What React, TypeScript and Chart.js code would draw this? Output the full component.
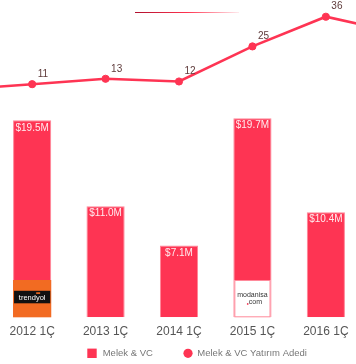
import React, { useEffect, useRef } from 'react';
import { Chart, registerables } from 'chart.js';

Chart.register(...registerables);

// Hidden first/last categories continue the line beyond the cropped frame
const categories = ['', '2012 1Ç', '2013 1Ç', '2014 1Ç', '2015 1Ç', '2016 1Ç', ''];
const fundingUSDm: (number | null)[] = [null, 19.5, 11.0, 7.1, 19.7, 10.4, null];
const dealCounts = [9, 11, 13, 12, 25, 36, 30];
const logos = ['', 'trendyol', '', '', 'modanisa', '', ''];
const barLabel = 'Melek & VC';
const lineLabel = 'Melek & VC Yatırım Adedi';

const RED = '#fe3453';
const FONT = '"Liberation Sans", Arial, Helvetica, sans-serif';

const overlay = {
  id: 'overlay',
  afterDatasetsDraw(chart: any) {
    const ctx = chart.ctx as CanvasRenderingContext2D;
    const barMeta = chart.getDatasetMeta(0);
    const lineMeta = chart.getDatasetMeta(1);
    ctx.save();
    barMeta.data.forEach((bar: any, i: number) => {
      const v = fundingUSDm[i];
      if (v == null) return;
      const { x, y, base, width } = bar.getProps(['x', 'y', 'base', 'width'], true);
      const l = x - width / 2;
      if (logos[i] === 'trendyol') {
        ctx.fillStyle = '#f26b22';
        ctx.fillRect(l, base - 37.3, width, 37.3);
        ctx.fillStyle = '#111';
        ctx.fillRect(l + 1, base - 26.5, width - 2, 12.5);
        ctx.fillStyle = '#fff';
        ctx.font = '7.5px ' + FONT;
        ctx.textAlign = 'center';
        ctx.textBaseline = 'middle';
        ctx.fillText('trendyol', x, base - 19.8);
        ctx.fillStyle = '#f26b22';
        ctx.fillRect(x + 4, base - 25, 4, 1.6);
      } else if (logos[i] === 'modanisa') {
        ctx.fillStyle = '#fff';
        ctx.fillRect(l + 1, base - 37.3, width - 2, 37.3);
        ctx.strokeStyle = '#ff8a9b';
        ctx.lineWidth = 1;
        ctx.strokeRect(l + 1.5, base - 36.8, width - 3, 36.3);
        ctx.fillStyle = '#333';
        ctx.font = '7px "Liberation Sans Narrow", ' + FONT;
        ctx.textAlign = 'center';
        ctx.textBaseline = 'middle';
        ctx.fillText('modanisa', x, base - 22);
        ctx.fillText('.com', x + 2, base - 15);
        ctx.fillStyle = RED;
        ctx.fillRect(x - 5.5, base - 14, 1.5, 1.5);
      }
      ctx.fillStyle = 'rgba(255,255,255,0.9)';
      ctx.font = '10px ' + FONT;
      ctx.textAlign = 'center';
      ctx.textBaseline = 'middle';
      ctx.fillText('$' + v.toFixed(1) + 'M', x, y + 7.5);
    });
    ctx.font = '10px ' + FONT;
    ctx.textAlign = 'left';
    ctx.textBaseline = 'middle';
    ctx.fillStyle = '#5e3a3a';
    lineMeta.data.forEach((pt: any, i: number) => {
      if (!categories[i]) return;
      ctx.fillText(String(dealCounts[i]), pt.x + 5.5, pt.y - 10);
    });
    // legend
    const ly = 353.3;
    const lx = 165.3;
    ctx.fillStyle = RED;
    ctx.fillRect(lx, ly - 4.7, 9.4, 9.4);
    ctx.fillStyle = '#777';
    ctx.font = '9.5px ' + FONT;
    ctx.fillText(barLabel, lx + 15.4, ly);
    ctx.fillStyle = RED;
    ctx.beginPath();
    ctx.arc(lx + 100.7, ly, 4.6, 0, Math.PI * 2);
    ctx.fill();
    ctx.fillStyle = '#777';
    ctx.fillText(lineLabel, lx + 110, ly);
    ctx.restore();
  },
};

export default function App() {
  const ref = useRef<HTMLCanvasElement>(null);
  useEffect(() => {
    const chart = new Chart(ref.current!, {
      type: 'bar',
      data: {
        labels: categories,
        datasets: [
          {
            type: 'bar',
            label: barLabel,
            data: fundingUSDm,
            backgroundColor: RED,
            borderColor: '#ff8597',
            borderWidth: 1,
            categoryPercentage: 1,
            barPercentage: 0.52,
            yAxisID: 'y',
            order: 1,
          } as any,
          {
            type: 'line',
            label: lineLabel,
            data: dealCounts,
            borderColor: RED,
            backgroundColor: RED,
            borderWidth: 2.6,
            pointRadius: 3.6,
            pointBorderWidth: 1,
            pointBackgroundColor: RED,
            pointBorderColor: RED,
            tension: 0,
            yAxisID: 'y1',
            order: 0,
            clip: false,
          } as any,
        ],
      },
      options: {
        responsive: false,
        animation: false,
        devicePixelRatio: 1,
        layout: { autoPadding: false, padding: { top: 0, bottom: 18.3, left: 0, right: 0 } },
        plugins: { legend: { display: false }, tooltip: { enabled: false } },
        scales: {
          x: {
            grid: { display: false, drawTicks: false },
            border: { display: false },
            ticks: {
              autoSkip: false,
              maxRotation: 0,
              padding: 7,
              color: '#555',
              font: { size: 12, family: FONT },
            },
          },
          y: { display: false, min: 0, max: 31.4 },
          y1: { display: false, min: -75.4, max: 42.2 },
        },
      },
      plugins: [overlay],
    });
    return () => chart.destroy();
  }, []);
  return (
    <div
      style={{
        position: 'fixed',
        left: 0,
        top: 0,
        width: 356,
        height: 364,
        overflow: 'hidden',
        background: '#fff',
      }}
    >
      <div
        style={{
          position: 'absolute',
          left: 135,
          top: 11.5,
          width: 104,
          height: 1.3,
          background: 'linear-gradient(to right, #b0102e, #ff3350 50%, rgba(255,51,80,0.1))',
        }}
      />
      <canvas
        ref={ref}
        width={514}
        height={364}
        style={{ position: 'absolute', left: -78, top: 0, width: 514, height: 364 }}
      />
    </div>
  );
}
